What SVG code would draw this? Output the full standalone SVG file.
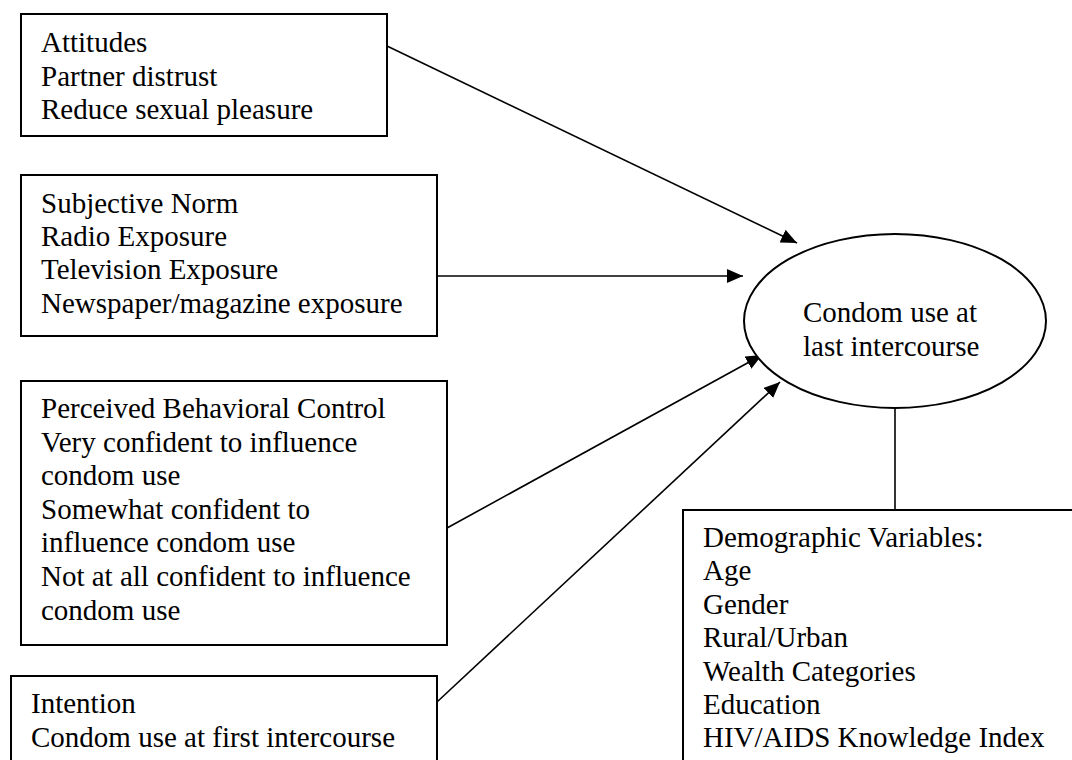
<svg xmlns="http://www.w3.org/2000/svg" width="1072" height="760" viewBox="0 0 1072 760">
<style>
.box{fill:#fff;stroke:#000;stroke-width:2}
.t{font-family:"Liberation Serif","Times New Roman",serif;font-size:29px;fill:#000}
.c{stroke:#000;stroke-width:1.6;fill:none}
</style>
<defs>
<marker id="ah" markerUnits="userSpaceOnUse" markerWidth="18" markerHeight="14" refX="16" refY="7" orient="auto">
<path d="M0,0 L16,7 L0,14 Z" fill="#000"/>
</marker>
</defs>
<rect width="1072" height="760" fill="#fff"/>
<g id="connectors">
<line class="c" x1="387" y1="46" x2="797" y2="243" marker-end="url(#ah)"/>
<line class="c" x1="437" y1="276" x2="743" y2="276" marker-end="url(#ah)"/>
<line class="c" x1="447" y1="528" x2="762" y2="355" marker-end="url(#ah)"/>
<line class="c" x1="437" y1="702" x2="780" y2="382" marker-end="url(#ah)"/>
<line class="c" x1="895" y1="408" x2="895" y2="510"/>
</g>
<g id="attitudes">
<rect class="box" x="21" y="14" width="366" height="122"/>
<text class="t" x="41" y="52">Attitudes</text>
<text class="t" x="41" y="86">Partner distrust</text>
<text class="t" x="41" y="119">Reduce sexual pleasure</text>
</g>
<g id="subjective-norm">
<rect class="box" x="21" y="175" width="416" height="161"/>
<text class="t" x="41" y="213">Subjective Norm</text>
<text class="t" x="41" y="246">Radio Exposure</text>
<text class="t" x="41" y="279">Television Exposure</text>
<text class="t" x="41" y="313">Newspaper/magazine exposure</text>
</g>
<g id="pbc">
<rect class="box" x="21" y="381" width="426" height="264"/>
<text class="t" x="41" y="418">Perceived Behavioral Control</text>
<text class="t" x="41" y="452">Very confident to influence</text>
<text class="t" x="41" y="485">condom use</text>
<text class="t" x="41" y="519">Somewhat confident to</text>
<text class="t" x="41" y="552">influence condom use</text>
<text class="t" x="41" y="586">Not at all confident to influence</text>
<text class="t" x="41" y="620">condom use</text>
</g>
<g id="intention">
<rect class="box" x="11" y="676" width="426" height="100"/>
<text class="t" x="31" y="713">Intention</text>
<text class="t" x="31" y="747">Condom use at first intercourse</text>
</g>
<g id="outcome">
<ellipse class="box" cx="895" cy="321" rx="151" ry="87" stroke-width="1.6"/>
<text class="t" x="803" y="322">Condom use at</text>
<text class="t" x="803" y="356">last intercourse</text>
</g>
<g id="demographics">
<rect class="box" x="683" y="510" width="400" height="270"/>
<text class="t" x="703" y="547">Demographic Variables:</text>
<text class="t" x="703" y="580">Age</text>
<text class="t" x="703" y="614">Gender</text>
<text class="t" x="703" y="647">Rural/Urban</text>
<text class="t" x="703" y="681">Wealth Categories</text>
<text class="t" x="703" y="714">Education</text>
<text class="t" x="703" y="747">HIV/AIDS Knowledge Index</text>
</g>
</svg>
